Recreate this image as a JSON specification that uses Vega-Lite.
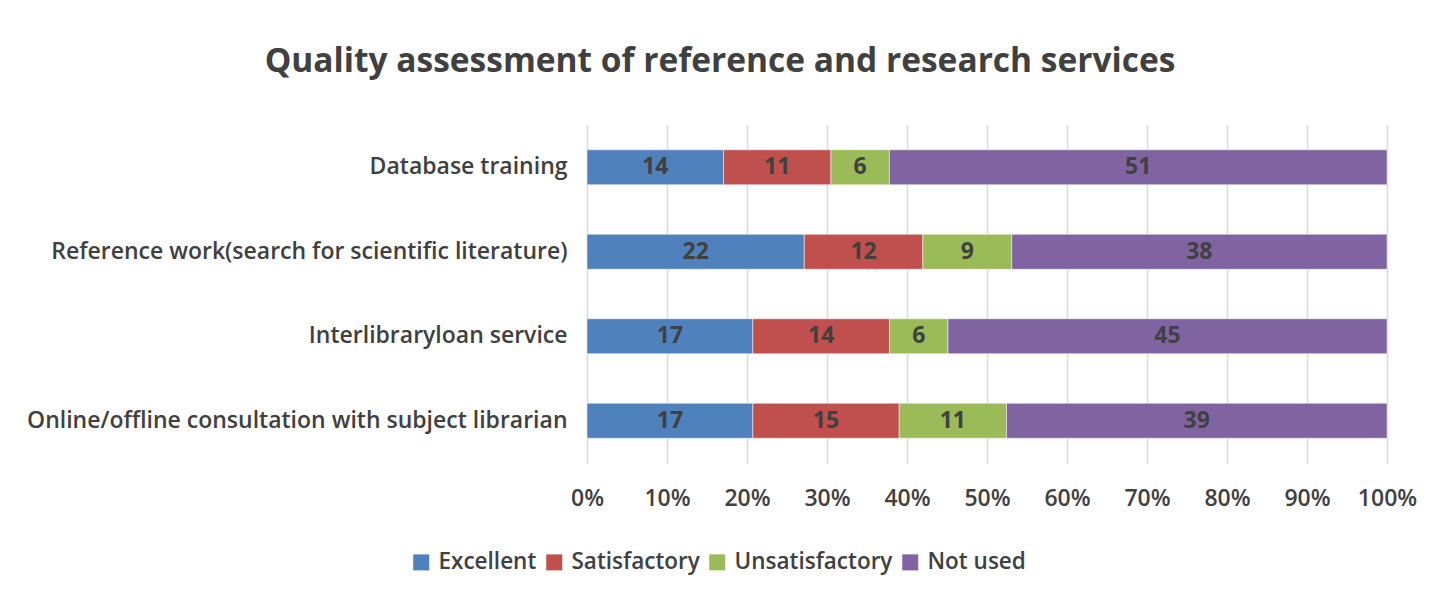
{
  "$schema": "https://vega.github.io/schema/vega-lite/v6.json",
  "width": 800,
  "height": 338,
  "autosize": "none",
  "padding": {"left": 587, "top": 125, "right": 50, "bottom": 130},
  "background": "white",
  "config": {"view": {"stroke": null}},
  "title": {
    "text": "Quality assessment of reference and research services",
    "font": "Open Sans",
    "fontSize": 33.5,
    "fontWeight": "bold",
    "color": "#404040",
    "anchor": "middle",
    "dx": -267,
    "offset": 46
  },
  "data": {
    "values": [
      {"service": "Database training", "rating": "Excellent", "k": 1, "value": 14},
      {"service": "Database training", "rating": "Satisfactory", "k": 2, "value": 11},
      {"service": "Database training", "rating": "Unsatisfactory", "k": 3, "value": 6},
      {"service": "Database training", "rating": "Not used", "k": 4, "value": 51},
      {"service": "Reference work(search for scientific literature)", "rating": "Excellent", "k": 1, "value": 22},
      {"service": "Reference work(search for scientific literature)", "rating": "Satisfactory", "k": 2, "value": 12},
      {"service": "Reference work(search for scientific literature)", "rating": "Unsatisfactory", "k": 3, "value": 9},
      {"service": "Reference work(search for scientific literature)", "rating": "Not used", "k": 4, "value": 38},
      {"service": "Interlibraryloan service", "rating": "Excellent", "k": 1, "value": 17},
      {"service": "Interlibraryloan service", "rating": "Satisfactory", "k": 2, "value": 14},
      {"service": "Interlibraryloan service", "rating": "Unsatisfactory", "k": 3, "value": 6},
      {"service": "Interlibraryloan service", "rating": "Not used", "k": 4, "value": 45},
      {"service": "Online/offline consultation with subject librarian", "rating": "Excellent", "k": 1, "value": 17},
      {"service": "Online/offline consultation with subject librarian", "rating": "Satisfactory", "k": 2, "value": 15},
      {"service": "Online/offline consultation with subject librarian", "rating": "Unsatisfactory", "k": 3, "value": 11},
      {"service": "Online/offline consultation with subject librarian", "rating": "Not used", "k": 4, "value": 39}
    ]
  },
  "transform": [
    {"stack": "value", "groupby": ["service"], "sort": [{"field": "k", "order": "ascending"}], "offset": "normalize", "as": ["x0", "x1"]},
    {"calculate": "(datum.x0 + datum.x1) / 2", "as": "xm"}
  ],
  "encoding": {
    "y": {
      "field": "service",
      "type": "nominal",
      "sort": ["Database training", "Reference work(search for scientific literature)", "Interlibraryloan service", "Online/offline consultation with subject librarian"],
      "scale": {"paddingInner": 0.586, "paddingOuter": 0.293},
      "axis": {
        "title": null,
        "domain": false,
        "ticks": false,
        "grid": false,
        "labelFont": "Open Sans",
        "labelFontSize": 23,
        "labelFontWeight": 600,
        "labelColor": "#404040",
        "labelPadding": 20,
        "labelLimit": 600
      }
    }
  },
  "layer": [
    {
      "mark": {"type": "bar", "stroke": "white", "strokeWidth": 0.5},
      "encoding": {
        "x": {
          "field": "x0",
          "type": "quantitative",
          "scale": {"domain": [0, 1]},
          "axis": {
            "title": null,
            "format": "%",
            "values": [0, 0.1, 0.2, 0.3, 0.4, 0.5, 0.6, 0.7, 0.8, 0.9, 1],
            "domain": false,
            "ticks": false,
            "grid": true,
            "gridColor": "#d9d9d9",
            "gridWidth": 1.5,
            "labelFlush": false,
            "labelFont": "Open Sans",
            "labelFontSize": 23,
            "labelFontWeight": 600,
            "labelColor": "#404040",
            "labelPadding": 24
          }
        },
        "x2": {"field": "x1"},
        "color": {
          "field": "rating",
          "type": "nominal",
          "scale": {
            "domain": ["Excellent", "Satisfactory", "Unsatisfactory", "Not used"],
            "range": ["#4f81bd", "#c0504d", "#9bbb59", "#8064a2"]
          },
          "legend": {
            "title": null,
            "orient": "none",
            "direction": "horizontal",
            "legendX": -177,
            "legendY": 426,
            "symbolType": "square",
            "symbolSize": 256,
            "symbolStrokeWidth": 0,
            "labelFont": "Open Sans",
            "labelFontSize": 22.5,
            "labelFontWeight": 600,
            "labelColor": "#404040",
            "labelLimit": 300,
            "columnPadding": 6,
            "labelOffset": 6
          }
        }
      }
    },
    {
      "mark": {"type": "text", "font": "Open Sans", "fontSize": 23, "fontWeight": "bold", "color": "#404040"},
      "encoding": {
        "x": {"field": "xm", "type": "quantitative"},
        "text": {"field": "value", "type": "quantitative"}
      }
    }
  ]
}
